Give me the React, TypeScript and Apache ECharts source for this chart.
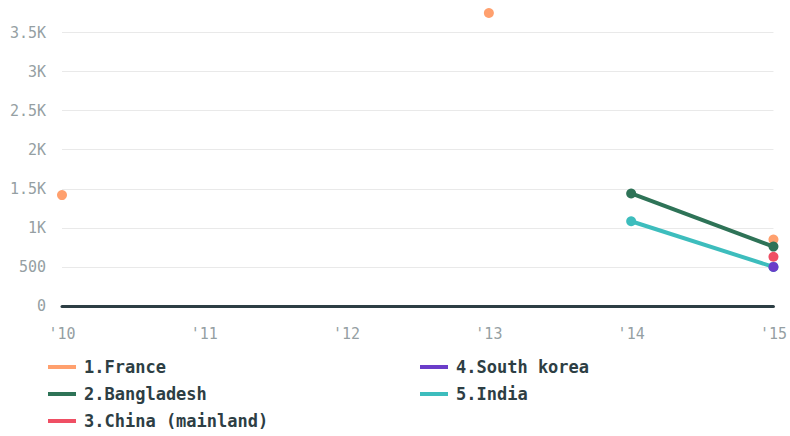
import React, { useEffect, useRef } from "react";
import * as echarts from "echarts";

const categories = ["'10", "'11", "'12", "'13", "'14", "'15"];
const seriesNames = ["1.France", "2.Bangladesh", "3.China (mainland)", "4.South korea", "5.India"];
const france = [1420, null, null, 3750, null, 850];
const bangladesh = [null, null, null, null, 1440, 760];
const china = [null, null, null, null, null, 630];
const southKorea = [null, null, null, null, null, 500];
const india = [null, null, null, null, 1085, 500];
const colors = ["#ffa06e", "#2e7357", "#ef4f64", "#6b3dc9", "#3dbdbd"];

const FONT = "'DejaVu Sans Mono', monospace";

export default function App() {
  const ref = useRef<HTMLDivElement>(null);
  useEffect(() => {
    document.body.style.margin = "0";
    if (!ref.current) return;
    const chart = echarts.init(ref.current, null, { renderer: "svg" });
    const datasets = [france, bangladesh, china, southKorea, india];
    const zs = [2, 3, 4, 6, 5];
    const legendCommon = {
      orient: "vertical" as const,
      top: 357,
      height: 79,
      padding: 0,
      itemWidth: 28,
      itemHeight: 4,
      itemGap: 7,
      icon: "rect",
      textStyle: {
        fontFamily: FONT,
        fontWeight: "bold" as const,
        fontSize: 17,
        color: "#2d3e44",
        lineHeight: 20,
        padding: [0, 0, 0, 3],
      },
    };
    chart.setOption({
      animation: false,
      color: colors,
      grid: { left: 62, right: 14, top: 13, bottom: 130 },
      legend: [
        { ...legendCommon, left: 48, data: seriesNames.slice(0, 3) },
        { ...legendCommon, left: 420, data: seriesNames.slice(3) },
      ],
      xAxis: {
        type: "category",
        data: categories,
        boundaryGap: false,
        axisLine: { lineStyle: { color: "#2d3e44", width: 3 } },
        axisTick: { show: false },
        axisLabel: { color: "#959fa3", fontFamily: FONT, fontSize: 15, margin: 20 },
      },
      yAxis: {
        type: "value",
        min: 0,
        max: "dataMax",
        interval: 500,
        axisLine: { show: false },
        axisTick: { show: false },
        splitLine: { showMaxLine: false, lineStyle: { color: "#e9e9e9", width: 1 } },
        axisLabel: {
          color: "#959fa3",
          fontFamily: FONT,
          fontSize: 15,
          margin: 16,
          showMaxLabel: false,
          formatter: (v: number) =>
            v % 500 !== 0 ? "" : v >= 1000 ? `${v / 1000}K` : `${v}`,
        },
      },
      series: datasets.map((d, i) => ({
        name: seriesNames[i],
        type: "line",
        data: d,
        z: zs[i],
        connectNulls: false,
        symbol: "circle",
        symbolSize: 10,
        showSymbol: true,
        lineStyle: { width: 4, color: colors[i] },
        itemStyle: { color: colors[i] },
      })),
    });
    return () => chart.dispose();
  }, []);
  return <div ref={ref} style={{ width: 790, height: 436 }} />;
}
